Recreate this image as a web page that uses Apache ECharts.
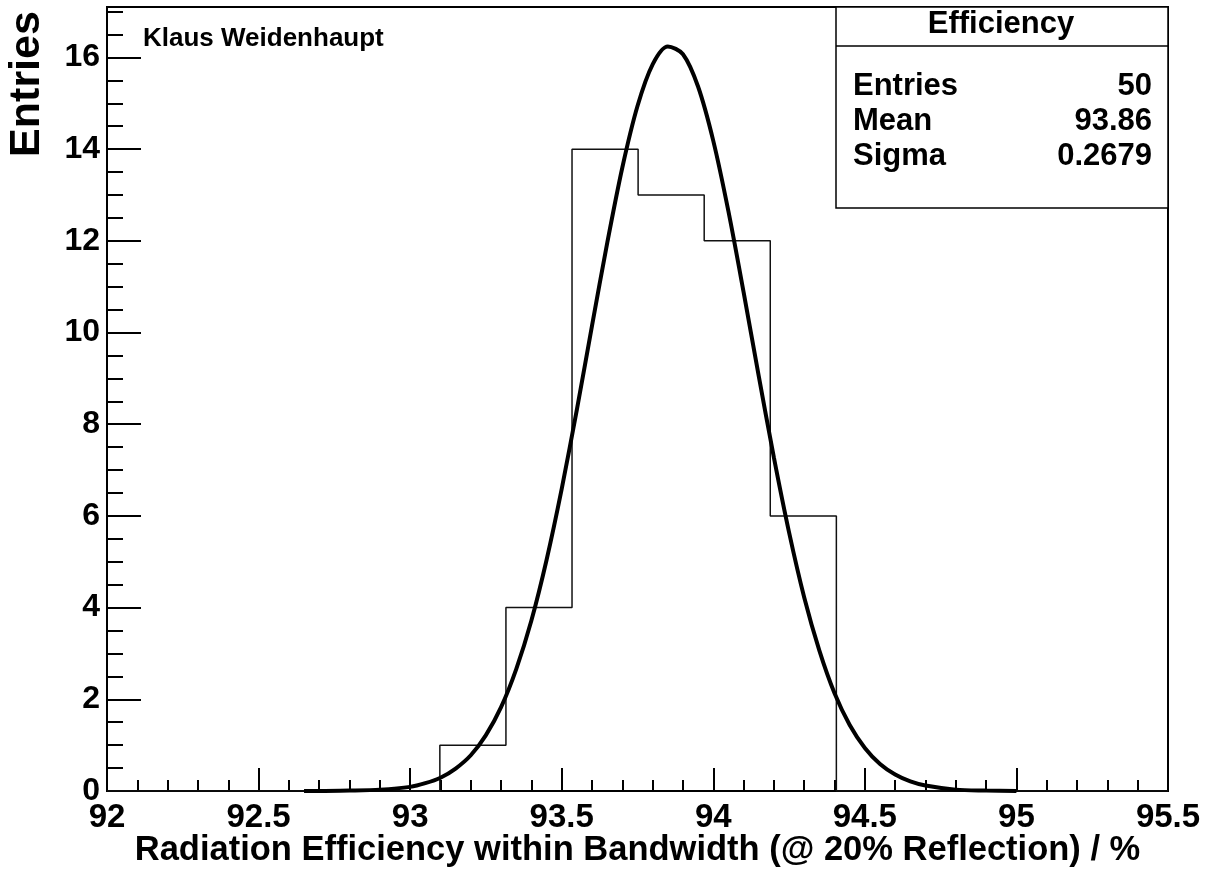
<!DOCTYPE html>
<html><head><meta charset="utf-8">
<script src="https://cdn.jsdelivr.net/npm/echarts@6/dist/echarts.min.js"></script>
<style>html,body{margin:0;padding:0;background:#fff}#c{width:1218px;height:872px}</style>
</head><body><div id="c"></div>
<script>
// Histogram bins (edges) and counts
const binEdges = [93.098, 93.316, 93.534, 93.752, 93.970, 94.188, 94.406];
const binCounts = [1, 4, 14, 13, 12, 6];
// Fit curve
const fitX = [92.65, 92.7, 92.8, 92.9, 93.0, 93.05, 93.1, 93.15, 93.2, 93.25, 93.3, 93.35, 93.4, 93.45, 93.5, 93.55, 93.6, 93.65, 93.7, 93.75, 93.8, 93.85, 93.9, 93.95, 94.0, 94.05, 94.1, 94.15, 94.2, 94.25, 94.3, 94.35, 94.4, 94.45, 94.5, 94.55, 94.6, 94.65, 94.7, 94.8, 94.9, 95.0];
const fitY = [0.00, 0.00, 0.01, 0.03, 0.09, 0.17, 0.29, 0.49, 0.78, 1.22, 1.83, 2.66, 3.72, 5.04, 6.59, 8.32, 10.15, 11.95, 13.60, 14.94, 15.85, 16.24, 16.07, 15.36, 14.18, 12.64, 10.88, 9.05, 7.27, 5.64, 4.22, 3.06, 2.13, 1.44, 0.94, 0.59, 0.36, 0.21, 0.12, 0.03, 0.01, 0.00];
const xRange = [92, 95.5];
const yRange = [0, 17.1];
const xTitle = 'Radiation Efficiency within Bandwidth (@ 20% Reflection) / %';
const yTitle = 'Entries';
const authorText = 'Klaus Weidenhaupt';
const statsTitle = 'Efficiency';
const statsLabels = ['Entries', 'Mean', 'Sigma'];
const statsValues = ['50', '93.86', '0.2679'];

const FONT = "'Liberation Sans', Arial, Helvetica, sans-serif";

const histData = [[xRange[0], 0], [binEdges[0], 0]];
binCounts.forEach((c, i) => {
  histData.push([binEdges[i], c]);
  histData.push([binEdges[i + 1], c]);
});
histData.push([binEdges[binEdges.length - 1], 0]);
histData.push([xRange[1], 0]);
const fitData = fitX.map((x, i) => [x, fitY[i]]);

const chart = echarts.init(document.getElementById('c'), null, {renderer: 'canvas'});

const rowY = [86.5, 121.5, 156.5];
const graphics = [
  {type: 'rect', shape: {x: 836, y: 7, width: 332, height: 201}, style: {fill: '#fff', stroke: '#000', lineWidth: 1.5}, z: 10},
  {type: 'line', shape: {x1: 836, y1: 46, x2: 1168, y2: 46}, style: {stroke: '#000', lineWidth: 1.5}, z: 11},
  {type: 'text', x: 1001, y: 24, style: {text: statsTitle, font: 'bold 31px ' + FONT, fill: '#000', align: 'center', verticalAlign: 'middle'}, z: 11},
  {type: 'text', x: 143, y: 38.5, style: {text: authorText, font: 'bold 26px ' + FONT, fill: '#000', align: 'left', verticalAlign: 'middle'}, z: 11}
];
statsLabels.forEach((t, i) => {
  graphics.push({type: 'text', x: 853, y: rowY[i], style: {text: t, font: 'bold 31px ' + FONT, fill: '#000', align: 'left', verticalAlign: 'middle'}, z: 11});
  graphics.push({type: 'text', x: 1152, y: rowY[i], style: {text: statsValues[i], font: 'bold 31px ' + FONT, fill: '#000', align: 'right', verticalAlign: 'middle'}, z: 11});
});

chart.setOption({
  animation: false,
  backgroundColor: '#fff',
  grid: {left: 107, right: 50, top: 7, bottom: 81, show: true, borderColor: '#000', borderWidth: 2, backgroundColor: 'transparent', containLabel: false, outerBoundsMode: 'none'},
  xAxis: {
    type: 'value', min: xRange[0], max: xRange[1], interval: 0.5,
    axisLine: {show: true, onZero: false, lineStyle: {color: '#000', width: 2}},
    axisTick: {show: true, inside: true, length: 23, lineStyle: {color: '#000', width: 2}},
    minorTick: {show: true, splitNumber: 5, length: 11, lineStyle: {color: '#000', width: 2}},
    splitLine: {show: false},
    axisLabel: {color: '#000', fontFamily: FONT, fontWeight: 'bold', fontSize: 33, margin: 10},
    name: xTitle, nameLocation: 'middle', nameGap: 42, nameMoveOverlap: false,
    nameTextStyle: {color: '#000', fontFamily: FONT, fontWeight: 'bold', fontSize: 34.5}
  },
  yAxis: [{
    type: 'value', min: yRange[0], max: yRange[1], interval: 2,
    axisLine: {show: true, onZero: false, lineStyle: {color: '#000', width: 2}},
    axisTick: {show: true, inside: true, length: 34, lineStyle: {color: '#000', width: 2}},
    splitLine: {show: false},
    axisLabel: {color: '#000', fontFamily: FONT, fontWeight: 'bold', fontSize: 32, margin: 7, showMaxLabel: false},
    name: yTitle, nameLocation: 'middle', nameGap: 58, nameMoveOverlap: false,
    nameTextStyle: {color: '#000', fontFamily: FONT, fontWeight: 'bold', fontSize: 43, padding: [0, 0, 0, 630]}
  }, {
    type: 'value', min: yRange[0], max: yRange[1], interval: 0.5, position: 'left', offset: 0,
    axisLine: {show: false},
    axisTick: {show: true, inside: true, length: 16, lineStyle: {color: '#000', width: 2}},
    axisLabel: {show: false},
    splitLine: {show: false}
  }],
  series: [
    {type: 'line', name: 'hist', data: histData, yAxisIndex: 0, symbol: 'none', lineStyle: {color: '#111', width: 1.5}, z: 3, clip: true},
    {type: 'line', name: 'fit', data: fitData, yAxisIndex: 0, symbol: 'none', smooth: 0.3, lineStyle: {color: '#000', width: 4}, z: 4, clip: true}
  ],
  graphic: graphics
});
</script></body></html>
